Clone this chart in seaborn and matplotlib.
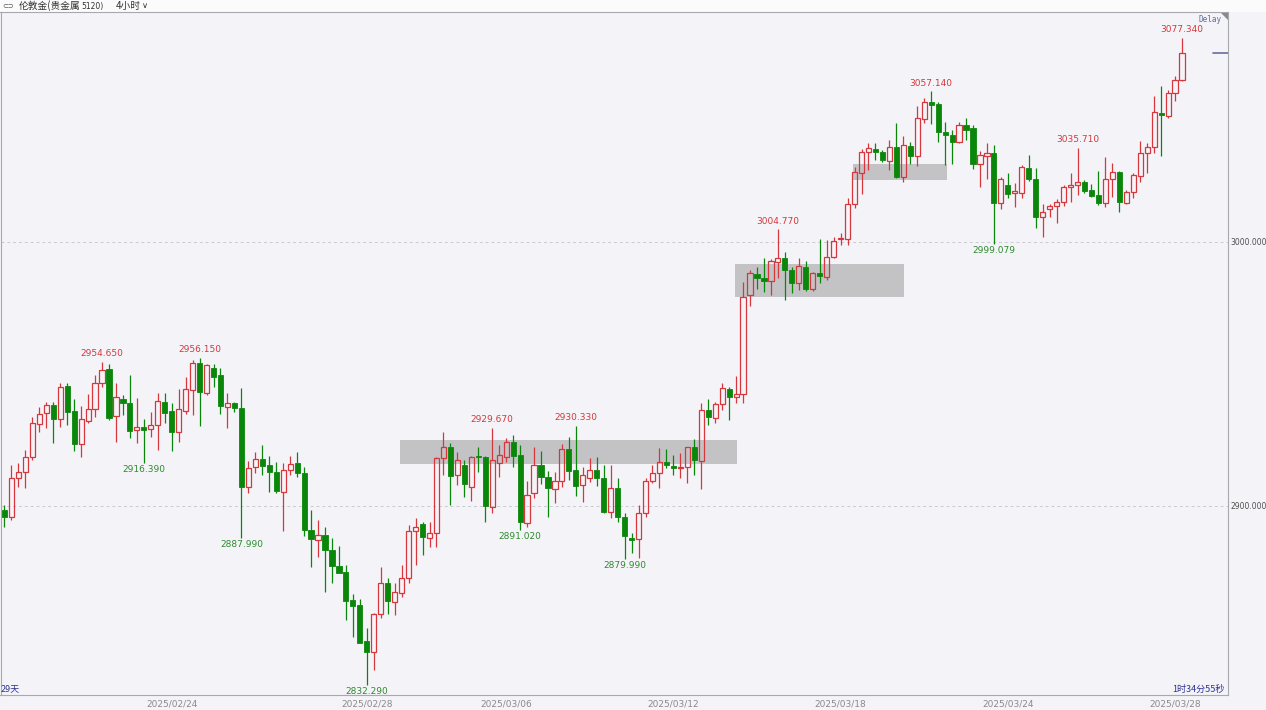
import matplotlib
matplotlib.use("Agg")
import matplotlib.pyplot as plt
from matplotlib.patches import Rectangle, Polygon
import numpy as np
import pandas as pd
import seaborn as sns

# ---------------- data (4h candles, 伦敦金) ----------------
opens = [2898.5, 2895.8, 2910.5, 2912.8, 2918.4, 2931.1, 2935.3, 2938.1, 2932.8, 2945.6,
         2936.1, 2923.5, 2932.3, 2936.6, 2946.7, 2951.8, 2934.1, 2940.4, 2939.1, 2928.8,
         2930.0, 2929.1, 2930.7, 2939.4, 2936.0, 2927.9, 2936.0, 2943.9, 2954.3, 2942.9,
         2952.2, 2949.5, 2937.6, 2938.9, 2937.0, 2907.3, 2914.7, 2917.7, 2915.5, 2912.8,
         2905.4, 2913.6, 2916.4, 2912.4, 2890.9, 2887.1, 2889.0, 2883.3, 2877.3, 2874.9,
         2864.4, 2862.6, 2848.75, 2844.8, 2859.1, 2870.7, 2863.75, 2867.2, 2872.6, 2890.6,
         2893.2, 2888.0, 2889.7, 2918.1, 2922.5, 2911.7, 2915.5, 2907.1, 2918.9, 2918.4,
         2899.7, 2916.2, 2918.7, 2924.4, 2919.3, 2893.7, 2904.8, 2915.5, 2911.1, 2906.4,
         2909.6, 2921.5, 2913.6, 2908.0, 2910.5, 2913.6, 2910.7, 2897.8, 2906.7, 2895.9,
         2887.8, 2887.3, 2897.5, 2909.6, 2912.6, 2916.8, 2915.2, 2914.3, 2914.7, 2922.2,
         2917.2, 2936.4, 2933.2, 2938.6, 2944.3, 2941.4, 2942.4, 2979.9, 2987.9, 2986.5,
         2985.2, 2992.5, 2993.8, 2989.4, 2984.4, 2990.6, 2982.1, 2988.1, 2986.6, 2994.2,
         3001.0, 3001.0, 3014.3, 3026.0, 3034.0, 3035.2, 3034.0, 3030.7, 3036.1, 3024.7,
         3036.5, 3032.7, 3046.6, 3052.9, 3052.2, 3041.8, 3040.5, 3038.0, 3044.3, 3043.2,
         3029.5, 3032.6, 3033.8, 3014.7, 3021.6, 3018.4, 3018.7, 3027.9, 3023.75, 3009.4,
         3012.4, 3013.75, 3015.3, 3020.7, 3021.6, 3022.8, 3019.7, 3017.8, 3014.9, 3023.75,
         3026.6, 3014.9, 3019.05, 3025.0, 3033.6, 3035.9, 3049.0, 3047.7, 3056.3, 3061.4]
highs = [2900.4, 2915.5, 2916.2, 2921.2, 2933.6, 2937.6, 2939.5, 2939.5, 2946.7, 2946.7,
         2940.4, 2937.9, 2942.4, 2949.6, 2954.65, 2953.8, 2946.7, 2942.0, 2949.6, 2940.8,
         2932.8, 2935.7, 2942.7, 2942.7, 2938.9, 2944.2, 2948.75, 2955.3, 2956.15, 2953.8,
         2953.8, 2952.2, 2942.7, 2939.5, 2944.6, 2917.0, 2920.5, 2923.1, 2918.9, 2916.8,
         2916.4, 2918.9, 2920.6, 2914.7, 2898.5, 2894.7, 2892.2, 2887.8, 2884.8, 2877.7,
         2866.7, 2864.7, 2853.7, 2859.3, 2877.0, 2872.6, 2870.7, 2877.7, 2892.8, 2895.3,
         2894.1, 2894.1, 2918.7, 2928.1, 2923.7, 2920.6, 2917.4, 2918.9, 2922.2, 2918.9,
         2929.67, 2923.1, 2925.6, 2926.9, 2923.1, 2909.6, 2922.2, 2920.9, 2913.3, 2913.0,
         2923.5, 2926.3, 2930.33, 2914.9, 2918.1, 2918.4, 2915.5, 2915.5, 2910.5, 2897.2,
         2889.7, 2900.4, 2910.5, 2915.5, 2921.9, 2921.5, 2919.3, 2920.0, 2922.2, 2925.3,
         2939.1, 2940.4, 2939.5, 2946.7, 2945.0, 2949.2, 2985.0, 2989.4, 2990.6, 2993.8,
         2993.4, 3004.77, 2996.3, 2990.6, 2993.8, 2992.9, 2988.75, 3001.0, 3000.8, 3001.8,
         3003.3, 3016.8, 3028.5, 3035.2, 3037.4, 3037.4, 3034.8, 3038.6, 3045.0, 3040.3,
         3037.8, 3051.6, 3054.7, 3057.14, 3052.9, 3045.6, 3042.4, 3045.6, 3047.1, 3044.3,
         3034.6, 3037.6, 3036.7, 3024.7, 3026.0, 3022.5, 3029.2, 3033.0, 3027.9, 3014.4,
         3014.4, 3016.2, 3021.6, 3026.25, 3035.71, 3023.5, 3022.0, 3027.0, 3032.1, 3030.0,
         3027.0, 3019.7, 3026.0, 3038.4, 3037.6, 3055.3, 3059.1, 3057.6, 3062.9, 3077.34]
lows = [2892.0, 2894.7, 2907.3, 2906.8, 2917.4, 2928.1, 2929.4, 2923.7, 2929.8, 2930.7,
        2920.9, 2918.4, 2931.3, 2933.8, 2945.2, 2932.6, 2924.4, 2934.5, 2925.6, 2923.7,
        2916.39, 2926.3, 2921.2, 2931.3, 2920.9, 2924.4, 2934.8, 2934.5, 2930.3, 2942.0,
        2945.2, 2934.8, 2929.4, 2935.7, 2887.99, 2905.1, 2912.6, 2911.7, 2905.4, 2905.0,
        2890.6, 2911.7, 2911.1, 2888.6, 2876.8, 2880.6, 2867.5, 2870.9, 2874.5, 2856.8,
        2850.5, 2848.0, 2832.29, 2837.9, 2857.5, 2859.1, 2858.7, 2865.6, 2870.9, 2877.7,
        2881.4, 2884.6, 2884.6, 2911.7, 2900.4, 2908.0, 2903.5, 2902.0, 2913.0, 2894.1,
        2897.2, 2911.1, 2916.8, 2914.9, 2891.02, 2891.9, 2902.9, 2908.3, 2895.9, 2901.25,
        2907.3, 2909.85, 2903.8, 2901.6, 2909.2, 2907.6, 2897.2, 2895.3, 2894.1, 2879.99,
        2882.1, 2880.2, 2896.0, 2908.6, 2906.7, 2914.3, 2911.7, 2910.5, 2908.6, 2911.7,
        2906.3, 2930.7, 2931.3, 2936.4, 2932.6, 2938.9, 2939.1, 2975.8, 2982.1, 2981.2,
        2979.9, 2986.25, 2978.0, 2980.8, 2981.8, 2981.6, 2981.6, 2984.4, 2985.6, 2993.8,
        2998.9, 2998.9, 3012.9, 3018.1, 3027.3, 3031.1, 3030.2, 3027.3, 3024.1, 3022.6,
        3029.4, 3028.9, 3045.0, 3044.6, 3038.0, 3029.2, 3029.4, 3037.4, 3038.6, 3027.5,
        3020.9, 3023.75, 2999.079, 3012.4, 3016.6, 3013.1, 3016.6, 3023.2, 3005.2, 3001.8,
        3009.4, 3007.3, 3013.6, 3015.3, 3017.8, 3018.4, 3016.9, 3014.0, 3013.1, 3017.2,
        3011.5, 3014.4, 3016.6, 3022.8, 3026.0, 3033.8, 3032.6, 3046.9, 3053.5, 3061.1]
closes = [2895.8, 2910.5, 2912.8, 2918.4, 2931.3, 2934.8, 2938.1, 2932.8, 2945.0, 2935.7,
          2923.5, 2933.0, 2936.6, 2946.7, 2951.5, 2933.2, 2941.2, 2938.9, 2928.5, 2930.0,
          2928.8, 2930.8, 2939.8, 2935.3, 2927.9, 2936.7, 2944.2, 2954.3, 2943.3, 2953.3,
          2949.0, 2937.9, 2939.1, 2937.0, 2907.3, 2914.4, 2917.7, 2915.2, 2912.8, 2905.8,
          2913.6, 2915.9, 2912.4, 2890.9, 2887.4, 2888.9, 2883.3, 2877.3, 2874.7, 2864.1,
          2862.1, 2848.2, 2844.8, 2859.1, 2870.7, 2864.1, 2867.5, 2872.6, 2890.6, 2892.2,
          2888.1, 2889.7, 2918.1, 2922.2, 2911.5, 2917.4, 2908.3, 2918.7, 2918.4, 2900.0,
          2917.4, 2919.3, 2924.4, 2918.9, 2894.1, 2904.2, 2915.5, 2911.1, 2906.7, 2909.6,
          2921.5, 2913.4, 2907.6, 2911.7, 2913.6, 2910.5, 2897.8, 2906.7, 2895.9, 2888.6,
          2887.1, 2897.5, 2909.6, 2912.6, 2916.8, 2915.5, 2914.3, 2914.9, 2922.2, 2917.4,
          2936.4, 2933.6, 2938.6, 2944.6, 2941.4, 2942.3, 2979.3, 2988.4, 2986.25, 2985.2,
          2992.8, 2993.8, 2989.4, 2984.4, 2990.9, 2982.1, 2988.1, 2987.1, 2994.2, 3000.5,
          3001.4, 3014.3, 3026.6, 3034.0, 3035.5, 3034.0, 3031.1, 3036.1, 3024.7, 3036.7,
          3032.7, 3047.1, 3052.9, 3051.9, 3041.8, 3040.5, 3038.0, 3044.3, 3042.4, 3029.5,
          3033.0, 3033.8, 3014.9, 3023.75, 3018.2, 3019.4, 3028.3, 3023.75, 3009.4, 3011.5,
          3013.75, 3015.3, 3020.9, 3021.6, 3022.8, 3019.4, 3017.4, 3014.7, 3023.75, 3026.6,
          3015.3, 3019.05, 3025.4, 3033.8, 3035.9, 3049.4, 3048.1, 3056.55, 3061.4, 3071.7]

date_labels = ["2025/02/24", "2025/02/28", "2025/03/06", "2025/03/12",
               "2025/03/18", "2025/03/24", "2025/03/28"]
date_candle = [24, 52, 72, 96, 120, 144, 168]

# marked extremes: candle index, price, kind
mark_idx = [14, 28, 20, 34, 52, 70, 74, 82, 89, 111, 133, 142, 154, 169]
mark_val = [2954.650, 2956.150, 2916.390, 2887.990, 2832.290, 2929.670, 2891.020,
            2930.330, 2879.990, 3004.770, 3057.140, 2999.079, 3035.710, 3077.340]
mark_kind = ["high", "high", "low", "low", "low", "high", "low",
             "high", "low", "high", "high", "low", "high", "high"]

# consolidation zones: first candle, last candle, lower price, upper price
zone_start = [56.8, 104.9, 121.8]
zone_end = [105.2, 129.1, 135.2]
zone_low = [2915.9, 2979.2, 3023.5]
zone_high = [2925.0, 2991.7, 3029.5]

y_ticks = [2900, 3000]

# ---------------- style ----------------
sns.set_theme(style="white")
plt.rcParams["font.family"] = ["DejaVu Sans", "Noto Sans CJK SC"]
cjk = ["Noto Sans CJK SC", "DejaVu Sans"]

BG = "#F4F4F8"
RED = "#D6373C"
GREEN = "#0A870A"
GRID = "#C9C9D0"
NAVY = "#2E3192"

W, H = 1266, 710
fig = plt.figure(figsize=(W / 100, H / 100), dpi=100, facecolor=BG)
ax = fig.add_axes([0.5 / W, 15 / H, 1227.5 / W, 683 / H], facecolor=BG)

df = pd.DataFrame({"open": opens, "high": highs, "low": lows, "close": closes})
df["x"] = np.arange(len(df))
df["up"] = df["close"] >= df["open"]

# zones (behind candles)
for x0, x1, lo, hi in zip(zone_start, zone_end, zone_low, zone_high):
    ax.add_patch(Rectangle((x0, lo), x1 - x0, hi - lo, facecolor="#C3C3C6",
                           edgecolor="none", zorder=1))

# grid lines
for yv in y_ticks:
    ax.axhline(yv, color=GRID, lw=0.7, ls=(0, (3, 3)), zorder=0.5)

bw = 0.74
for _, r in df.iterrows():
    top = max(r.open, r.close)
    bot = min(r.open, r.close)
    col = RED if r.up else GREEN
    ax.vlines(r.x, top, r.high, color=col, lw=0.9, zorder=2)
    ax.vlines(r.x, r.low, bot, color=col, lw=0.9, zorder=2)
    h = max(top - bot, 0.45)
    if r.up:
        ax.add_patch(Rectangle((r.x - bw / 2, bot), bw, h, facecolor="none",
                               edgecolor=RED, lw=0.9, zorder=3))
    else:
        ax.add_patch(Rectangle((r.x - bw / 2, bot), bw, h, facecolor=GREEN,
                               edgecolor=GREEN, lw=0.6, zorder=3))

# extreme labels
for i, v, k in zip(mark_idx, mark_val, mark_kind):
    if k == "high":
        ax.annotate(f"{v:.3f}", (i, v), xytext=(0, 2.5), textcoords="offset points",
                    ha="center", va="bottom", fontsize=6.5, color=RED, zorder=5)
    else:
        ax.annotate(f"{v:.3f}", (i, v), xytext=(0, -1.5), textcoords="offset points",
                    ha="center", va="top", fontsize=6.5, color="#2F8A2F", zorder=5)

# current price marker
ax.axhline(closes[-1], xmin=1213 / 1228, xmax=1.0, color="#6A6A9E", lw=1.2, zorder=4)

ax.set_xlim(-0.574, 175.6)
ax.set_ylim(2828.4, 3087.1)
ax.yaxis.tick_right()
ax.set_yticks(y_ticks)
ax.set_yticklabels([f"{v:.3f}" for v in y_ticks], fontsize=5.5, color="#505050")
ax.tick_params(axis="y", length=0, pad=2)
ax.set_xticks(date_candle)
ax.set_xticklabels(date_labels, fontsize=6.5, color="#8A8A8A")
ax.tick_params(axis="x", length=0, pad=3)
for s in ax.spines.values():
    s.set_color("#A8A8AE")
    s.set_linewidth(0.8)

# header band
fig.patches.append(Rectangle((0, 698 / H), 1, 12 / H, transform=fig.transFigure,
                             facecolor="#FBFBFB", edgecolor="none", zorder=-1))
fig.text(2 / W, 704 / H, "⊂⊃", fontsize=5, color="#555555", va="center", ha="left")
fig.text(19 / W, 704 / H, "伦敦金(贵金属", fontsize=7, color="#333333",
         va="center", ha="left", family=cjk)
fig.text(81 / W, 704 / H, "5120)", fontsize=5.5, color="#333333", va="center", ha="left")
fig.text(116 / W, 704 / H, "4小时", fontsize=7, color="#333333",
         va="center", ha="left", family=cjk)
fig.text(142 / W, 704 / H, "∨", fontsize=6, color="#333333", va="center", ha="left")

# corner texts
fig.text(1 / W, (H - 689) / H, "29天", fontsize=6.5, color=NAVY, va="center",
         ha="left", family=cjk)
fig.text(1172 / W, (H - 689) / H, "1时34分55秒", fontsize=6.5, color=NAVY,
         va="center", ha="left", family=cjk)
fig.text(1210 / W, (H - 20) / H, "Delay", fontsize=5.5, color="#5B6B9B",
         va="center", ha="center", family="DejaVu Sans Mono")
fig.patches.append(Polygon([(1221 / W, (H - 12.5) / H), (1228 / W, (H - 12.5) / H),
                            (1228 / W, (H - 19.5) / H)], closed=True,
                           transform=fig.transFigure, facecolor="#8A8A8A",
                           edgecolor="none", zorder=5))

fig.savefig("out.png", dpi=100, facecolor=BG)
